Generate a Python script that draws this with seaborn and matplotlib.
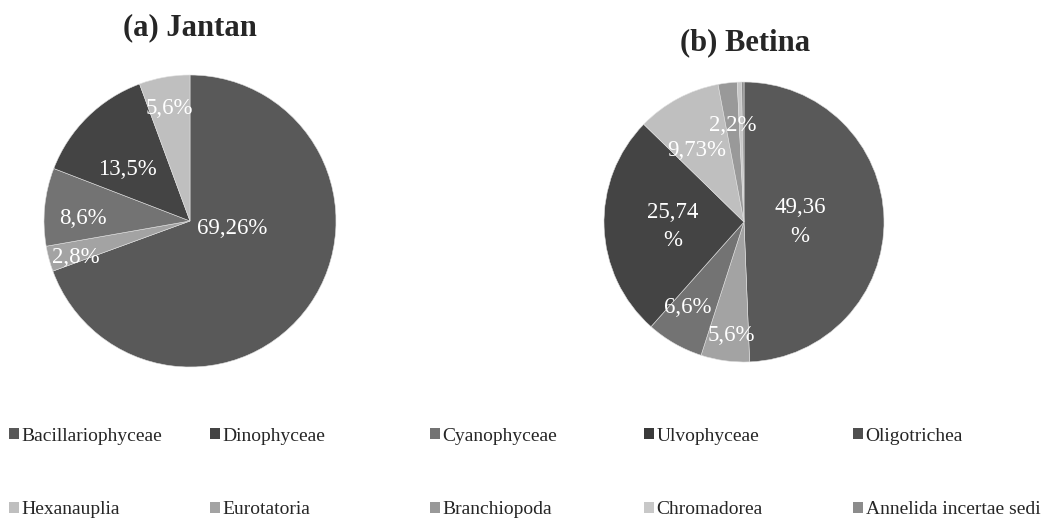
import numpy as np
import matplotlib
matplotlib.use("Agg")
import matplotlib.pyplot as plt
from matplotlib.patches import Patch
import seaborn as sns

sns.set_theme(style="white")
plt.rcParams['font.family'] = ['Liberation Serif', 'DejaVu Serif']

# legend categories (Excel order)
categories = ["Bacillariophyceae", "Dinophyceae", "Cyanophyceae", "Ulvophyceae", "Oligotrichea",
              "Hexanauplia", "Eurotatoria", "Branchiopoda", "Chromadorea", "Annelida incertae sedi"]
cat_colors = ["#595959", "#444444", "#737373", "#3a3a3a", "#4f4f4f",
              "#bfbfbf", "#a3a3a3", "#999999", "#c8c8c8", "#8c8c8c"]

# (a) Jantan - clockwise from 12 o'clock
jantan_cats = ["Bacillariophyceae", "Eurotatoria", "Cyanophyceae", "Dinophyceae", "Hexanauplia"]
jantan_vals = [69.26, 2.8, 8.6, 13.5, 5.6]
jantan_labels = ["69,26%", "2,8%", "8,6%", "13,5%", "5,6%"]

# (b) Betina
betina_cats = ["Bacillariophyceae", "Eurotatoria", "Cyanophyceae", "Dinophyceae", "Hexanauplia",
               "Branchiopoda", "Chromadorea", "Annelida incertae sedi"]
betina_vals = [49.36, 5.6, 6.6, 25.74, 9.73, 2.2, 0.5, 0.27]
betina_labels = ["49,36\n%", "5,6%", "6,6%", "25,74\n%", "9,73%", "2,2%", "", ""]

color_of = dict(zip(categories, cat_colors))

W, H = 1048, 529
fig = plt.figure(figsize=(W / 100, H / 100), dpi=100)


def pie_axes(cx, cy, r):
    return fig.add_axes([(cx - r) / W, (H - cy - r) / H, 2 * r / W, 2 * r / H])


def draw_pie(ax, vals, cats, labels, label_pos):
    ax.pie(vals, colors=[color_of[c] for c in cats], startangle=90, counterclock=False,
           wedgeprops=dict(linewidth=0.4, edgecolor="#e0e0e0"))
    ax.set_xlim(-1.0, 1.0)
    ax.set_ylim(-1.0, 1.0)
    ax.set_axis_off()
    for lab, (x, y) in zip(labels, label_pos):
        if lab:
            ax.text(x, y, lab, color="white", fontsize=16.5, ha="center", va="center",
                    linespacing=1.45)


ax1 = pie_axes(190, 221, 146)
draw_pie(ax1, jantan_vals, jantan_cats, jantan_labels,
         [(0.29, -0.05), (-0.78, -0.25), (-0.73, 0.02), (-0.43, 0.35), (-0.14, 0.77)])

ax2 = pie_axes(744, 222, 140)
draw_pie(ax2, betina_vals, betina_cats, betina_labels,
         [(0.40, 0.0), (-0.09, -0.81), (-0.40, -0.61), (-0.51, -0.03), (-0.34, 0.51),
          (-0.08, 0.69), (0, 0), (0, 0)])

fig.text(190 / W, 1 - 28 / H, "(a) Jantan", ha="center", va="center",
         fontsize=22, fontweight="bold")
fig.text(745 / W, 1 - 43 / H, "(b) Betina", ha="center", va="center",
         fontsize=22, fontweight="bold")

# legend: one small legend per column, two rows each
handles = [Patch(facecolor=c, edgecolor="none") for c in cat_colors]
col_x = [9, 210, 430, 644, 853]
for j, x in enumerate(col_x):
    fig.legend([handles[j], handles[j + 5]], [categories[j], categories[j + 5]],
               loc="center left", bbox_to_anchor=(x / W, 1 - 473 / H),
               frameon=False, fontsize=14, handlelength=0.5, handleheight=0.5,
               handletextpad=0.15, labelspacing=2.9, borderpad=0, borderaxespad=0)

fig.savefig("out.png", dpi=100, facecolor="white")
